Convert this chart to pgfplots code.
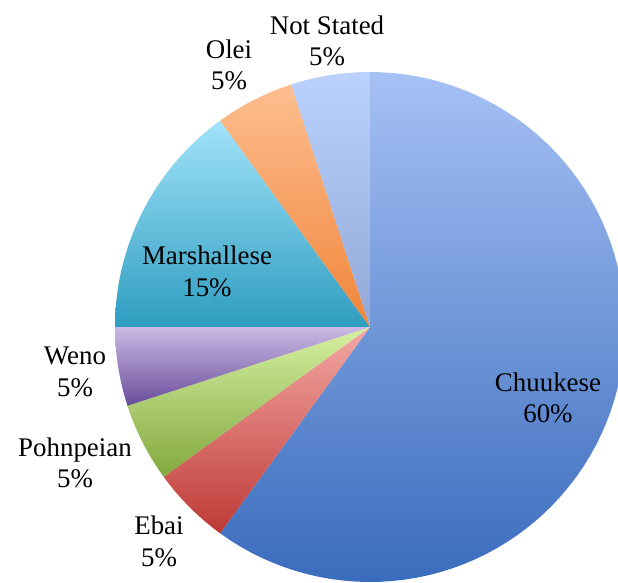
\documentclass[border=0pt]{standalone}
\usepackage{pgfplots}
\pgfplotsset{compat=1.18}
\usepackage{pgfplotstable}
\usepgfplotslibrary{polar}
\usepackage{fontspec}
\setmainfont{Liberation Serif}

\definecolor{top0}{HTML}{A6C1F4}\definecolor{bot0}{HTML}{3A6CBD}
\definecolor{top1}{HTML}{F4A8A4}\definecolor{bot1}{HTML}{BE3A36}
\definecolor{top2}{HTML}{D6F0A2}\definecolor{bot2}{HTML}{82A83E}
\definecolor{top3}{HTML}{CABAE4}\definecolor{bot3}{HTML}{6A4C9A}
\definecolor{top4}{HTML}{A2E3F9}\definecolor{bot4}{HTML}{2E9DC0}
\definecolor{top5}{HTML}{FDBE90}\definecolor{bot5}{HTML}{F0853A}
\definecolor{top6}{HTML}{BAD2FD}\definecolor{bot6}{HTML}{92A8D8}

\pgfplotstableread{
name value
Chuukese 60
Ebai 5
Pohnpeian 5
Weno 5
Marshallese 15
Olei 5
NotStated 5
}\piedata

\begin{document}
\begin{tikzpicture}
\begin{polaraxis}[
  hide axis,
  scale only axis,
  width=510bp, height=510bp,
  ymin=0, ymax=1,
  clip=false,
]
\def\cum{0}
\pgfplotsforeachungrouped \i in {0,...,6}{%
  \pgfplotstablegetelem{\i}{value}\of\piedata
  \let\v\pgfplotsretval
  \pgfmathsetmacro\a{90-3.6*\cum}%
  \pgfmathsetmacro\b{90-3.6*(\cum+\v)}%
  \pgfmathsetmacro\cum{\cum+\v}%
  \edef\temp{\noexpand\addplot[draw=none, top color=top\i, bottom color=bot\i,
     domain=\b:\a, samples=80] {1} -- (axis cs:0,0) -- cycle;}%
  \temp
}
\coordinate (c) at (axis cs:0,0);
\end{polaraxis}
\pgfresetboundingbox
\path (c) ++(-370bp,-256bp) rectangle ++(618bp,583bp);
\begingroup
\fontsize{27}{32}\selectfont
\def\lab#1#2#3#4#5{%
  \path (c) ++({(#1-370)*1bp},{(327-#2)*1bp}) node[anchor=base, inner sep=0pt] {#4};
  \path (c) ++({(#1-370)*1bp},{(327-#3)*1bp}) node[anchor=base, inner sep=0pt] {#5};}
\lab{327}{35}{66}{Not Stated}{5\%}
\lab{229}{59}{90}{Olei}{5\%}
\lab{207}{265}{297}{Marshallese}{15\%}
\lab{75}{365}{397}{Weno}{5\%}
\lab{75}{457}{488}{Pohnpeian}{5\%}
\lab{159}{535}{567}{Ebai}{5\%}
\lab{548}{392}{423}{Chuukese}{60\%}
\endgroup
\end{tikzpicture}
\end{document}
